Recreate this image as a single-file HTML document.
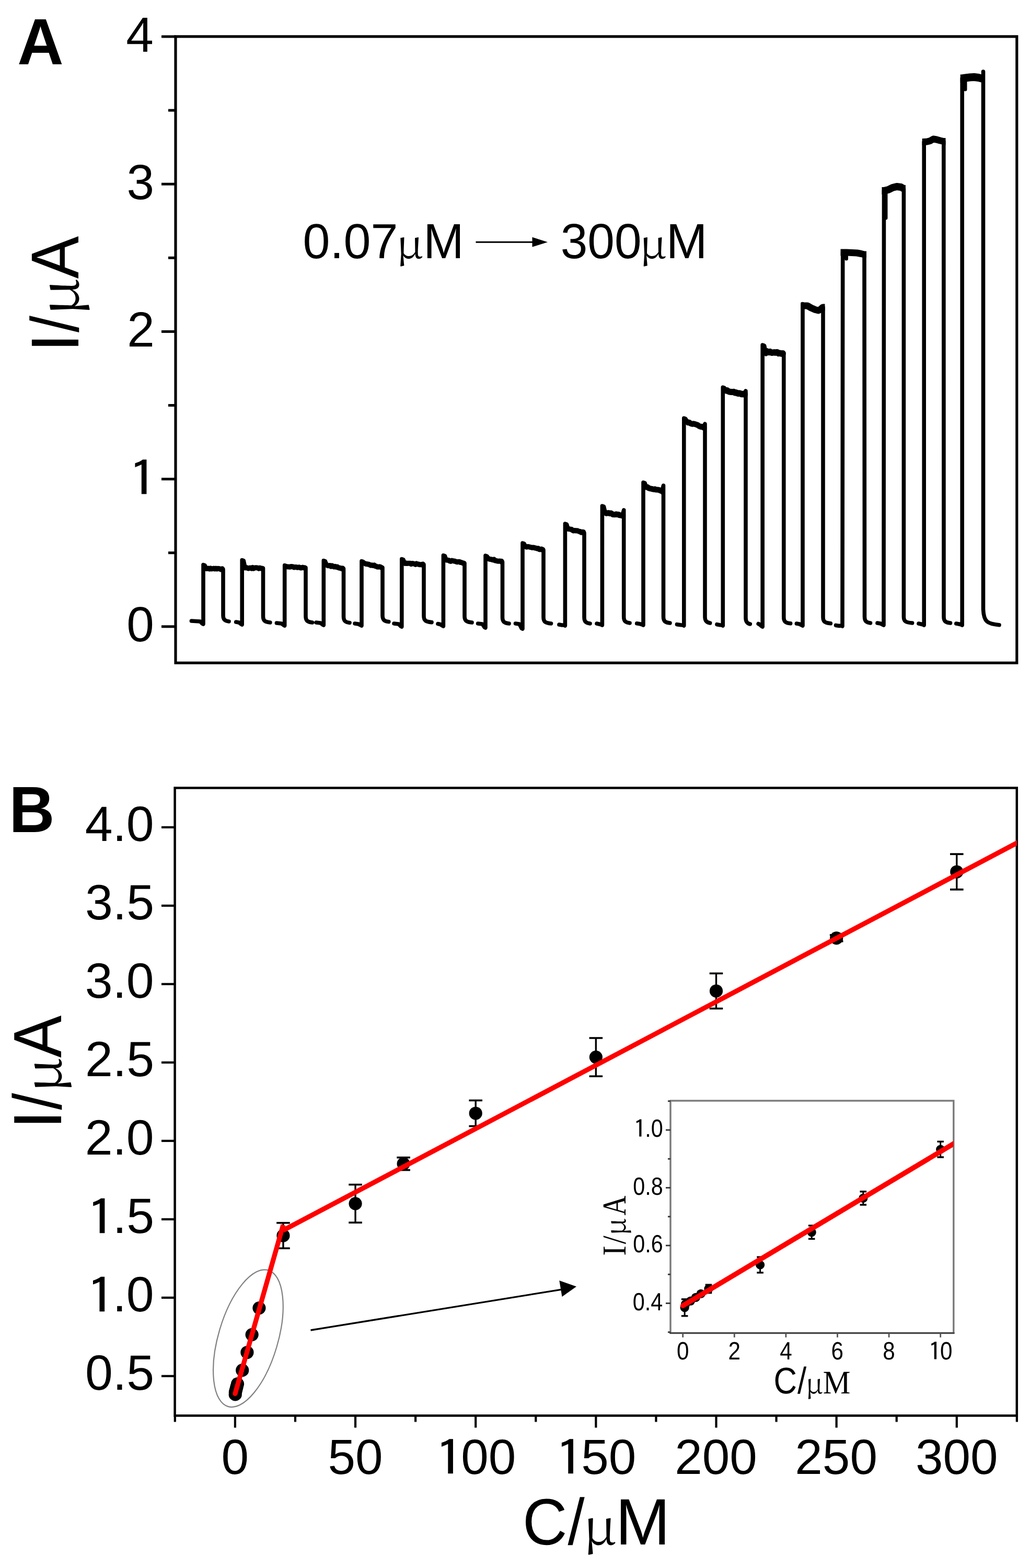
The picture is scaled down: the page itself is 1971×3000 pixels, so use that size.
<!DOCTYPE html>
<html><head><meta charset="utf-8"><title>Figure</title>
<style>html,body{margin:0;padding:0;background:#fff;}svg{display:block;}text{font-kerning:none;text-rendering:geometricPrecision;fill:#000;}</style>
</head><body>
<svg width="1971" height="3000" viewBox="0 0 1971 3000">
<rect x="0" y="0" width="1971" height="3000" fill="#fff"/>
<rect x="336.0" y="69.9" width="1609.80" height="1198.40" fill="none" stroke="#000" stroke-width="5.2"/>
<line x1="309.00" y1="1198.80" x2="336.00" y2="1198.80" stroke="#000" stroke-width="5.0" stroke-linecap="butt"/>
<text x="242.14" y="1227.30" font-family="'Liberation Sans', Arial, sans-serif" font-size="94.50">0</text>
<line x1="309.00" y1="916.60" x2="336.00" y2="916.60" stroke="#000" stroke-width="5.0" stroke-linecap="butt"/>
<text transform="translate(244.39 949.89) scale(1.2500 1)" font-family="'IPAGothic', 'Liberation Sans', sans-serif" font-size="94.24">1</text>
<line x1="309.00" y1="634.40" x2="336.00" y2="634.40" stroke="#000" stroke-width="5.0" stroke-linecap="butt"/>
<text x="243.20" y="662.90" font-family="'Liberation Sans', Arial, sans-serif" font-size="94.50">2</text>
<line x1="309.00" y1="352.20" x2="336.00" y2="352.20" stroke="#000" stroke-width="5.0" stroke-linecap="butt"/>
<text x="242.60" y="380.70" font-family="'Liberation Sans', Arial, sans-serif" font-size="94.50">3</text>
<line x1="309.00" y1="70.00" x2="336.00" y2="70.00" stroke="#000" stroke-width="5.0" stroke-linecap="butt"/>
<text x="241.21" y="98.50" font-family="'Liberation Sans', Arial, sans-serif" font-size="94.50">4</text>
<line x1="322.00" y1="1057.70" x2="336.00" y2="1057.70" stroke="#000" stroke-width="5.0" stroke-linecap="butt"/>
<line x1="322.00" y1="775.50" x2="336.00" y2="775.50" stroke="#000" stroke-width="5.0" stroke-linecap="butt"/>
<line x1="322.00" y1="493.30" x2="336.00" y2="493.30" stroke="#000" stroke-width="5.0" stroke-linecap="butt"/>
<line x1="322.00" y1="211.10" x2="336.00" y2="211.10" stroke="#000" stroke-width="5.0" stroke-linecap="butt"/>
<text transform="translate(33.35 122.60) scale(0.9790 1)" font-family="'Liberation Sans', Arial, sans-serif" font-size="125.00" font-weight="bold">A</text>
<g transform="translate(150.20 661.70) rotate(-90)"><text x="-12.14" y="0.00" font-family="'Liberation Sans', Arial, sans-serif" font-size="129.50">I</text><text transform="translate(25.70 0.00) scale(0.8894 1)" font-family="'Liberation Sans', Arial, sans-serif" font-size="129.50">/</text><text transform="translate(57.51 0.00) scale(1.0936 1)" font-family="'Noto Serif CJK SC', 'Liberation Serif', serif" font-size="104.40">μ</text><text transform="translate(128.46 0.00) scale(0.9433 1)" font-family="'Liberation Sans', Arial, sans-serif" font-size="129.50">A</text></g>
<text transform="translate(579.45 493.50) scale(0.9945 1)" font-family="'Liberation Sans', Arial, sans-serif" font-size="94.00">0.07</text>
<text transform="translate(758.06 493.60) scale(1.0930 1)" font-family="'Noto Serif CJK SC', 'Liberation Serif', serif" font-size="76.00">μ</text>
<text transform="translate(810.37 493.60) scale(0.9829 1)" font-family="'Liberation Sans', Arial, sans-serif" font-size="94.60">M</text>
<text transform="translate(1072.76 493.50) scale(0.9811 1)" font-family="'Liberation Sans', Arial, sans-serif" font-size="94.60">300</text>
<text transform="translate(1223.56 493.60) scale(1.0930 1)" font-family="'Noto Serif CJK SC', 'Liberation Serif', serif" font-size="76.00">μ</text>
<text transform="translate(1274.74 493.60) scale(1.0003 1)" font-family="'Liberation Sans', Arial, sans-serif" font-size="94.60">M</text>
<line x1="910.50" y1="463.20" x2="1022.00" y2="463.20" stroke="#000" stroke-width="3.0" stroke-linecap="butt"/>
<polygon points="1048,463.2 1018.5,453.8 1018.5,472.4" fill="#000"/>
<path d="M366.4,1188.0 L383.0,1189.0 L387.0,1193.0 L389.0,1194.0 L389.0,1080.5 L392.0,1081.5 L395.0,1088.0 L397.0,1087.7 L399.0,1087.4 L401.0,1088.5 L403.0,1087.4 L405.0,1088.4 L407.0,1088.1 L409.0,1087.6 L411.0,1088.5 L413.0,1087.6 L415.0,1088.5 L417.0,1087.8 L419.0,1087.9 L421.0,1088.7 L423.0,1089.5 L425.0,1088.2 L427.0,1089.0 L427.0,1177.0 C427.0,1186.0 431.0,1188.0 438.0,1189.0 M451.7,1190.0 L457.2,1191.0 L461.2,1194.0 L463.2,1195.0 L463.2,1071.5 L466.2,1072.5 L469.2,1086.4 L471.2,1085.9 L473.2,1086.8 L475.3,1087.5 L477.3,1086.8 L479.3,1086.5 L481.3,1087.7 L483.3,1085.9 L485.3,1087.6 L487.4,1086.5 L489.4,1086.3 L491.4,1086.3 L493.4,1086.7 L495.4,1087.8 L497.4,1086.6 L499.5,1087.4 L501.5,1087.6 L503.5,1087.4 L503.5,1179.0 C503.5,1188.0 507.5,1190.0 516.8,1191.0 M529.4,1192.0 L538.7,1193.0 L542.7,1196.0 L544.7,1197.0 L544.7,1081.5 L547.7,1082.5 L550.7,1084.5 L552.7,1084.4 L554.7,1084.8 L556.8,1084.0 L558.8,1084.1 L560.8,1084.5 L562.8,1085.5 L564.8,1085.1 L566.8,1085.0 L568.9,1085.7 L570.9,1085.5 L572.9,1085.3 L574.9,1086.4 L576.9,1086.4 L578.9,1085.6 L581.0,1086.3 L583.0,1086.3 L585.0,1086.4 L585.0,1179.0 C585.0,1188.0 589.0,1190.0 597.4,1191.0 M605.0,1191.0 L613.3,1192.0 L617.3,1195.0 L619.3,1196.0 L619.3,1072.5 L622.3,1073.5 L625.3,1081.0 L627.3,1082.2 L629.3,1082.3 L631.3,1081.9 L633.3,1083.7 L635.4,1082.4 L637.4,1083.5 L639.4,1084.6 L641.4,1083.8 L643.4,1084.9 L645.4,1084.5 L647.4,1086.1 L649.5,1086.8 L651.5,1086.8 L653.5,1087.9 L655.5,1087.2 L657.5,1088.0 L657.5,1179.5 C657.5,1188.5 661.5,1190.5 669.0,1191.5 M679.0,1193.0 L686.0,1194.0 L690.0,1196.0 L692.0,1197.0 L692.0,1073.5 L695.0,1074.5 L698.0,1078.0 L700.0,1078.9 L702.0,1079.1 L704.0,1079.6 L706.0,1079.8 L708.0,1081.0 L710.0,1081.7 L712.0,1081.2 L714.0,1082.1 L716.0,1081.4 L718.0,1083.1 L720.0,1083.5 L722.0,1084.6 L724.0,1084.8 L726.0,1084.2 L728.0,1084.8 L730.0,1085.9 L732.0,1086.0 L732.0,1177.6 C732.0,1186.6 736.0,1188.6 743.8,1189.6 M754.0,1193.0 L762.8,1194.0 L766.8,1198.0 L768.8,1199.0 L768.8,1069.5 L771.8,1070.5 L774.8,1078.0 L776.8,1077.2 L778.8,1078.1 L780.8,1077.7 L782.8,1077.7 L784.9,1077.7 L786.9,1079.2 L788.9,1078.0 L790.9,1078.4 L792.9,1078.8 L794.9,1079.9 L796.9,1078.4 L798.9,1079.2 L800.9,1079.5 L803.0,1080.3 L805.0,1080.3 L807.0,1080.5 L809.0,1079.4 L811.0,1080.0 L811.0,1178.6 C811.0,1187.6 815.0,1189.6 826.0,1190.6 M838.0,1193.5 L842.4,1194.5 L846.4,1197.0 L848.4,1198.0 L848.4,1062.5 L851.4,1063.5 L854.4,1071.6 L856.4,1071.8 L858.5,1072.0 L860.5,1073.4 L862.5,1073.9 L864.6,1072.6 L866.6,1073.0 L868.6,1073.5 L870.7,1073.8 L872.7,1074.6 L874.8,1075.2 L876.8,1074.9 L878.8,1074.7 L880.9,1075.9 L882.9,1076.1 L884.9,1076.9 L887.0,1078.0 L889.0,1077.4 L889.0,1179.0 C889.0,1188.0 893.0,1190.0 903.0,1191.0 M914.6,1193.0 L923.0,1194.0 L927.0,1200.0 L929.0,1201.0 L929.0,1063.0 L932.0,1064.0 L935.0,1069.0 L937.0,1069.8 L939.1,1070.0 L941.1,1070.6 L943.2,1071.2 L945.2,1070.4 L947.2,1072.6 L949.3,1072.8 L951.3,1073.4 L953.3,1073.7 L955.4,1073.4 L957.4,1073.9 L959.5,1073.7 L961.5,1075.0 L961.5,1181.0 C961.5,1190.0 965.5,1192.0 974.0,1193.0 M986.5,1193.0 L994.0,1194.0 L998.0,1202.0 L1000.0,1203.0 L1000.0,1039.0 L1003.0,1040.0 L1006.0,1046.0 L1008.0,1046.6 L1010.0,1045.8 L1012.0,1046.2 L1014.0,1046.8 L1016.0,1047.1 L1018.0,1047.8 L1020.0,1047.6 L1022.0,1047.8 L1024.0,1048.5 L1026.0,1048.7 L1028.0,1049.6 L1030.0,1049.3 L1032.0,1051.3 L1034.0,1051.2 L1036.0,1050.6 L1038.0,1051.2 L1040.0,1052.0 L1040.0,1181.0 C1040.0,1190.0 1044.0,1192.0 1054.5,1193.0 M1070.0,1195.0 L1075.4,1196.0 L1079.4,1196.0 L1081.4,1197.0 L1081.4,1002.0 L1084.4,1003.0 L1087.4,1012.0 L1089.4,1012.2 L1091.5,1012.7 L1093.5,1012.7 L1095.6,1014.7 L1097.6,1015.5 L1099.6,1014.9 L1101.7,1015.5 L1103.7,1015.2 L1105.8,1015.7 L1107.8,1016.7 L1109.8,1017.0 L1111.9,1018.7 L1113.9,1017.8 L1116.0,1018.0 L1118.0,1019.5 L1118.0,1181.0 C1118.0,1190.0 1122.0,1192.0 1129.0,1193.0 M1142.0,1193.0 L1146.4,1194.0 L1150.4,1195.0 L1152.4,1196.0 L1152.4,968.0 L1155.4,969.0 L1158.4,981.0 L1160.5,982.2 L1162.6,981.7 L1164.6,981.3 L1166.7,982.4 L1168.8,981.7 L1170.9,983.0 L1172.9,984.3 L1175.0,984.4 L1177.1,984.4 L1179.2,983.8 L1181.2,984.4 L1183.3,984.3 L1185.4,985.8 L1187.5,985.7 L1189.5,986.5 L1191.6,985.9 L1190.7,986.6 L1193.7,976.0 L1193.7,1180.0 C1193.7,1189.0 1197.7,1191.0 1205.0,1192.0 M1218.7,1192.8 L1225.0,1193.8 L1229.0,1195.0 L1231.0,1196.0 L1231.0,923.0 L1234.0,924.0 L1237.0,932.0 L1239.0,932.0 L1241.1,933.7 L1243.1,934.6 L1245.1,934.9 L1247.2,935.3 L1249.2,935.9 L1251.2,936.2 L1253.2,935.8 L1255.3,936.9 L1257.3,937.1 L1259.3,937.0 L1261.4,937.5 L1263.4,938.5 L1265.4,939.0 L1267.5,940.4 L1266.5,940.6 L1269.5,929.0 L1269.5,1180.0 C1269.5,1189.0 1273.5,1191.0 1281.9,1192.0 M1295.5,1194.7 L1302.8,1195.7 L1306.8,1196.0 L1308.8,1197.0 L1308.8,800.0 L1311.8,801.0 L1314.8,807.0 L1316.8,808.6 L1318.8,808.2 L1320.8,809.9 L1322.8,810.7 L1324.9,811.3 L1326.9,810.8 L1328.9,811.1 L1330.9,811.8 L1332.9,812.4 L1334.9,813.1 L1336.9,814.6 L1338.9,815.8 L1341.0,816.4 L1343.0,816.3 L1345.0,817.4 L1347.0,818.3 L1346.0,818.4 L1349.0,811.0 L1349.0,1180.0 C1349.0,1189.0 1353.0,1191.0 1358.6,1192.0 M1372.0,1194.7 L1377.3,1195.7 L1381.3,1196.0 L1383.3,1197.0 L1383.3,741.0 L1386.3,742.0 L1389.3,747.4 L1391.4,747.0 L1393.5,748.6 L1395.6,749.5 L1397.7,749.7 L1399.8,750.0 L1401.9,749.9 L1404.0,749.7 L1406.1,751.4 L1408.2,750.9 L1410.2,752.2 L1412.3,753.0 L1414.4,752.3 L1416.5,752.7 L1418.6,754.2 L1420.7,754.2 L1422.8,753.5 L1424.9,753.8 L1424.0,755.0 L1427.0,748.0 L1427.0,1182.0 C1427.0,1191.0 1431.0,1193.0 1435.3,1194.0 M1451.2,1193.5 L1453.2,1194.5 L1457.2,1198.0 L1459.2,1199.0 L1459.2,660.0 L1462.2,661.0 L1465.2,672.6 L1467.2,672.1 L1469.3,673.9 L1471.3,673.9 L1473.3,672.8 L1475.4,674.4 L1477.4,674.9 L1479.4,674.5 L1481.5,674.1 L1483.5,674.7 L1485.6,674.1 L1487.6,674.1 L1489.6,676.2 L1491.7,675.8 L1493.7,675.8 L1495.7,676.8 L1497.8,676.0 L1499.8,676.4 L1499.8,1180.8 C1499.8,1189.8 1503.8,1191.8 1512.6,1192.8 M1524.4,1193.0 L1530.0,1194.0 L1534.0,1196.0 L1536.0,1197.0 L1536.0,581.5 L1537.0,585.0 L1545.0,585.0 L1552.0,589.0 L1560.0,592.5 L1566.0,594.0 L1570.0,592.0 L1574.6,588.0 L1575.0,588.0 L1575.0,1180.8 C1575.0,1189.8 1579.0,1191.8 1589.3,1192.8 M1599.6,1196.4 L1606.0,1197.4 L1610.0,1197.0 L1612.0,1198.0 L1612.7,483.0 L1620.0,483.0 L1630.0,483.5 L1640.0,484.0 L1648.0,485.5 L1654.0,487.0 L1654.5,1180.0 C1654.5,1189.0 1658.5,1191.0 1665.5,1192.0 M1679.0,1192.0 L1685.0,1193.0 L1689.0,1195.0 L1691.0,1196.0 L1691.5,365.0 L1700.0,363.0 L1708.0,359.0 L1716.0,357.0 L1724.0,358.0 L1729.4,361.0 L1729.4,1180.0 C1729.4,1189.0 1733.4,1191.0 1745.6,1192.0 M1758.0,1193.0 L1762.2,1194.0 L1766.2,1195.0 L1768.2,1196.0 L1768.2,271.5 L1774.0,271.0 L1780.0,269.5 L1786.0,266.0 L1792.0,267.0 L1799.0,269.0 L1805.8,270.5 L1806.0,1180.0 C1806.0,1189.0 1810.0,1191.0 1818.5,1192.0 M1829.8,1193.0 L1835.2,1194.0 L1839.2,1195.0 L1841.2,1196.0 L1841.2,150.0 L1848.0,149.0 L1856.0,148.0 L1864.0,147.5 L1872.0,148.5 L1878.0,150.0 L1881.5,150.0 L1881.5,137.0 L1881.5,1165.8 C1882.5,1189.8 1889.5,1193.8 1912.0,1195.8" fill="none" stroke="#000" stroke-width="7.6" stroke-linejoin="round" stroke-linecap="round"/>
<path d="M395.0,1088.0 L397.0,1087.7 L399.0,1087.4 L401.0,1088.5 L403.0,1087.4 L405.0,1088.4 L407.0,1088.1 L409.0,1087.6 L411.0,1088.5 L413.0,1087.6 L415.0,1088.5 L417.0,1087.8 L419.0,1087.9 L421.0,1088.7 L423.0,1089.5 L425.0,1088.2 L425.0,1089.0 M469.2,1086.4 L471.2,1085.9 L473.2,1086.8 L475.3,1087.5 L477.3,1086.8 L479.3,1086.5 L481.3,1087.7 L483.3,1085.9 L485.3,1087.6 L487.4,1086.5 L489.4,1086.3 L491.4,1086.3 L493.4,1086.7 L495.4,1087.8 L497.4,1086.6 L499.5,1087.4 L501.5,1087.6 L501.5,1087.4 M550.7,1084.5 L552.7,1084.4 L554.7,1084.8 L556.8,1084.0 L558.8,1084.1 L560.8,1084.5 L562.8,1085.5 L564.8,1085.1 L566.8,1085.0 L568.9,1085.7 L570.9,1085.5 L572.9,1085.3 L574.9,1086.4 L576.9,1086.4 L578.9,1085.6 L581.0,1086.3 L583.0,1086.3 L583.0,1086.4 M625.3,1081.0 L627.3,1082.2 L629.3,1082.3 L631.3,1081.9 L633.3,1083.7 L635.4,1082.4 L637.4,1083.5 L639.4,1084.6 L641.4,1083.8 L643.4,1084.9 L645.4,1084.5 L647.4,1086.1 L649.5,1086.8 L651.5,1086.8 L653.5,1087.9 L655.5,1087.2 L655.5,1088.0 M698.0,1078.0 L700.0,1078.9 L702.0,1079.1 L704.0,1079.6 L706.0,1079.8 L708.0,1081.0 L710.0,1081.7 L712.0,1081.2 L714.0,1082.1 L716.0,1081.4 L718.0,1083.1 L720.0,1083.5 L722.0,1084.6 L724.0,1084.8 L726.0,1084.2 L728.0,1084.8 L730.0,1085.9 L730.0,1086.0 M774.8,1078.0 L776.8,1077.2 L778.8,1078.1 L780.8,1077.7 L782.8,1077.7 L784.9,1077.7 L786.9,1079.2 L788.9,1078.0 L790.9,1078.4 L792.9,1078.8 L794.9,1079.9 L796.9,1078.4 L798.9,1079.2 L800.9,1079.5 L803.0,1080.3 L805.0,1080.3 L807.0,1080.5 L809.0,1079.4 L809.0,1080.0 M854.4,1071.6 L856.4,1071.8 L858.5,1072.0 L860.5,1073.4 L862.5,1073.9 L864.6,1072.6 L866.6,1073.0 L868.6,1073.5 L870.7,1073.8 L872.7,1074.6 L874.8,1075.2 L876.8,1074.9 L878.8,1074.7 L880.9,1075.9 L882.9,1076.1 L884.9,1076.9 L887.0,1078.0 L887.0,1077.4 M935.0,1069.0 L937.0,1069.8 L939.1,1070.0 L941.1,1070.6 L943.2,1071.2 L945.2,1070.4 L947.2,1072.6 L949.3,1072.8 L951.3,1073.4 L953.3,1073.7 L955.4,1073.4 L957.4,1073.9 L959.5,1073.7 L959.5,1075.0 M1006.0,1046.0 L1008.0,1046.6 L1010.0,1045.8 L1012.0,1046.2 L1014.0,1046.8 L1016.0,1047.1 L1018.0,1047.8 L1020.0,1047.6 L1022.0,1047.8 L1024.0,1048.5 L1026.0,1048.7 L1028.0,1049.6 L1030.0,1049.3 L1032.0,1051.3 L1034.0,1051.2 L1036.0,1050.6 L1038.0,1051.2 L1038.0,1052.0 M1087.4,1012.0 L1089.4,1012.2 L1091.5,1012.7 L1093.5,1012.7 L1095.6,1014.7 L1097.6,1015.5 L1099.6,1014.9 L1101.7,1015.5 L1103.7,1015.2 L1105.8,1015.7 L1107.8,1016.7 L1109.8,1017.0 L1111.9,1018.7 L1113.9,1017.8 L1116.0,1018.0 L1116.0,1019.5" fill="none" stroke="#000" stroke-width="10" stroke-linejoin="round" stroke-linecap="round"/>
<path d="M1158.4,981.0 L1160.5,982.2 L1162.6,981.7 L1164.6,981.3 L1166.7,982.4 L1168.8,981.7 L1170.9,983.0 L1172.9,984.3 L1175.0,984.4 L1177.1,984.4 L1179.2,983.8 L1181.2,984.4 L1183.3,984.3 L1185.4,985.8 L1187.5,985.7 L1189.5,986.5 L1191.6,985.9 L1191.7,986.6 M1237.0,932.0 L1239.0,932.0 L1241.1,933.7 L1243.1,934.6 L1245.1,934.9 L1247.2,935.3 L1249.2,935.9 L1251.2,936.2 L1253.2,935.8 L1255.3,936.9 L1257.3,937.1 L1259.3,937.0 L1261.4,937.5 L1263.4,938.5 L1265.4,939.0 L1267.5,940.4 L1267.5,940.6 M1314.8,807.0 L1316.8,808.6 L1318.8,808.2 L1320.8,809.9 L1322.8,810.7 L1324.9,811.3 L1326.9,810.8 L1328.9,811.1 L1330.9,811.8 L1332.9,812.4 L1334.9,813.1 L1336.9,814.6 L1338.9,815.8 L1341.0,816.4 L1343.0,816.3 L1345.0,817.4 L1347.0,818.3 L1347.0,818.4" fill="none" stroke="#000" stroke-width="11" stroke-linejoin="round" stroke-linecap="round"/>
<path d="M1389.3,747.4 L1391.4,747.0 L1393.5,748.6 L1395.6,749.5 L1397.7,749.7 L1399.8,750.0 L1401.9,749.9 L1404.0,749.7 L1406.1,751.4 L1408.2,750.9 L1410.2,752.2 L1412.3,753.0 L1414.4,752.3 L1416.5,752.7 L1418.6,754.2 L1420.7,754.2 L1422.8,753.5 L1424.9,753.8 L1425.0,755.0 M1465.2,672.6 L1467.2,672.1 L1469.3,673.9 L1471.3,673.9 L1473.3,672.8 L1475.4,674.4 L1477.4,674.9 L1479.4,674.5 L1481.5,674.1 L1483.5,674.7 L1485.6,674.1 L1487.6,674.1 L1489.6,676.2 L1491.7,675.8 L1493.7,675.8 L1495.7,676.8 L1497.8,676.0 L1497.8,676.4" fill="none" stroke="#000" stroke-width="12" stroke-linejoin="round" stroke-linecap="round"/>
<path d="M1532.5,585.0 L1537.0,585.0 L1545.0,585.0 L1552.0,589.0 L1560.0,592.5 L1566.0,594.0 L1570.0,592.0 L1574.6,588.0 L1578.5,588.0 M1608.5,483.0 L1612.7,483.0 L1620.0,483.0 L1630.0,483.5 L1640.0,484.0 L1648.0,485.5 L1654.0,487.0 L1658.0,487.0 M1764.7,271.5 L1768.2,271.5 L1774.0,271.0 L1780.0,269.5 L1786.0,266.0 L1792.0,267.0 L1799.0,269.0 L1805.8,270.5 L1809.5,270.5" fill="none" stroke="#000" stroke-width="13" stroke-linejoin="round" stroke-linecap="butt"/>
<path d="M1687.5,365.0 L1691.5,365.0 L1700.0,363.0 L1708.0,359.0 L1716.0,357.0 L1724.0,358.0 L1729.4,361.0 L1732.9,361.0" fill="none" stroke="#000" stroke-width="14" stroke-linejoin="round" stroke-linecap="butt"/>
<path d="M1837.7,150.0 L1841.2,150.0 L1848.0,149.0 L1856.0,148.0 L1864.0,147.5 L1872.0,148.5 L1878.0,150.0 L1881.5,150.0 L1885.0,150.0" fill="none" stroke="#000" stroke-width="15" stroke-linejoin="round" stroke-linecap="butt"/>
<path d="M1619.5,487 L1619.5,495 M1695.0,364 L1695.0,417 M1847.0,151 L1847.0,171 M1463.0,662 L1466.0,678" fill="none" stroke="#000" stroke-width="7" stroke-linecap="round"/>
<rect x="334.6" y="1507.5" width="1611.20" height="1201.00" fill="none" stroke="#000" stroke-width="4.5"/>
<line x1="309.00" y1="2632.80" x2="334.60" y2="2632.80" stroke="#000" stroke-width="4.2" stroke-linecap="butt"/>
<text x="162.93" y="2658.80" font-family="'Liberation Sans', Arial, sans-serif" font-size="95.00">0.5</text>
<line x1="309.00" y1="2482.80" x2="334.60" y2="2482.80" stroke="#000" stroke-width="4.2" stroke-linecap="butt"/>
<text transform="translate(163.99 2513.61) scale(1.2500 1)" font-family="'IPAGothic', 'Liberation Sans', sans-serif" font-size="94.74">1</text><text x="215.48" y="2508.80" font-family="'Liberation Sans', Arial, sans-serif" font-size="95.00">.0</text>
<line x1="309.00" y1="2332.80" x2="334.60" y2="2332.80" stroke="#000" stroke-width="4.2" stroke-linecap="butt"/>
<text transform="translate(164.27 2363.61) scale(1.2500 1)" font-family="'IPAGothic', 'Liberation Sans', sans-serif" font-size="94.74">1</text><text x="215.76" y="2358.80" font-family="'Liberation Sans', Arial, sans-serif" font-size="95.00">.5</text>
<line x1="309.00" y1="2182.80" x2="334.60" y2="2182.80" stroke="#000" stroke-width="4.2" stroke-linecap="butt"/>
<text x="162.65" y="2208.80" font-family="'Liberation Sans', Arial, sans-serif" font-size="95.00">2.0</text>
<line x1="309.00" y1="2032.80" x2="334.60" y2="2032.80" stroke="#000" stroke-width="4.2" stroke-linecap="butt"/>
<text x="162.93" y="2058.80" font-family="'Liberation Sans', Arial, sans-serif" font-size="95.00">2.5</text>
<line x1="309.00" y1="1882.80" x2="334.60" y2="1882.80" stroke="#000" stroke-width="4.2" stroke-linecap="butt"/>
<text x="162.65" y="1908.80" font-family="'Liberation Sans', Arial, sans-serif" font-size="95.00">3.0</text>
<line x1="309.00" y1="1732.80" x2="334.60" y2="1732.80" stroke="#000" stroke-width="4.2" stroke-linecap="butt"/>
<text x="162.93" y="1758.80" font-family="'Liberation Sans', Arial, sans-serif" font-size="95.00">3.5</text>
<line x1="309.00" y1="1582.80" x2="334.60" y2="1582.80" stroke="#000" stroke-width="4.2" stroke-linecap="butt"/>
<text x="162.65" y="1608.80" font-family="'Liberation Sans', Arial, sans-serif" font-size="95.00">4.0</text>
<line x1="334.82" y1="2708.50" x2="334.82" y2="2720.50" stroke="#000" stroke-width="4.2" stroke-linecap="butt"/>
<line x1="449.90" y1="2708.50" x2="449.90" y2="2731.50" stroke="#000" stroke-width="4.2" stroke-linecap="butt"/>
<text x="423.62" y="2819.60" font-family="'Liberation Sans', Arial, sans-serif" font-size="94.50">0</text>
<line x1="564.97" y1="2708.50" x2="564.97" y2="2720.50" stroke="#000" stroke-width="4.2" stroke-linecap="butt"/>
<line x1="680.05" y1="2708.50" x2="680.05" y2="2731.50" stroke="#000" stroke-width="4.2" stroke-linecap="butt"/>
<text x="627.45" y="2819.60" font-family="'Liberation Sans', Arial, sans-serif" font-size="94.50">50</text>
<line x1="795.12" y1="2708.50" x2="795.12" y2="2720.50" stroke="#000" stroke-width="4.2" stroke-linecap="butt"/>
<line x1="910.20" y1="2708.50" x2="910.20" y2="2731.50" stroke="#000" stroke-width="4.2" stroke-linecap="butt"/>
<text transform="translate(830.95 2824.39) scale(1.2500 1)" font-family="'IPAGothic', 'Liberation Sans', sans-serif" font-size="94.24">1</text><text x="882.17" y="2819.60" font-family="'Liberation Sans', Arial, sans-serif" font-size="94.50">00</text>
<line x1="1025.28" y1="2708.50" x2="1025.28" y2="2720.50" stroke="#000" stroke-width="4.2" stroke-linecap="butt"/>
<line x1="1140.35" y1="2708.50" x2="1140.35" y2="2731.50" stroke="#000" stroke-width="4.2" stroke-linecap="butt"/>
<text transform="translate(1061.10 2824.39) scale(1.2500 1)" font-family="'IPAGothic', 'Liberation Sans', sans-serif" font-size="94.24">1</text><text x="1112.32" y="2819.60" font-family="'Liberation Sans', Arial, sans-serif" font-size="94.50">50</text>
<line x1="1255.42" y1="2708.50" x2="1255.42" y2="2720.50" stroke="#000" stroke-width="4.2" stroke-linecap="butt"/>
<line x1="1370.50" y1="2708.50" x2="1370.50" y2="2731.50" stroke="#000" stroke-width="4.2" stroke-linecap="butt"/>
<text x="1291.13" y="2819.60" font-family="'Liberation Sans', Arial, sans-serif" font-size="94.50">200</text>
<line x1="1485.57" y1="2708.50" x2="1485.57" y2="2720.50" stroke="#000" stroke-width="4.2" stroke-linecap="butt"/>
<line x1="1600.65" y1="2708.50" x2="1600.65" y2="2731.50" stroke="#000" stroke-width="4.2" stroke-linecap="butt"/>
<text x="1521.28" y="2819.60" font-family="'Liberation Sans', Arial, sans-serif" font-size="94.50">250</text>
<line x1="1715.72" y1="2708.50" x2="1715.72" y2="2720.50" stroke="#000" stroke-width="4.2" stroke-linecap="butt"/>
<line x1="1830.80" y1="2708.50" x2="1830.80" y2="2731.50" stroke="#000" stroke-width="4.2" stroke-linecap="butt"/>
<text x="1752.01" y="2819.60" font-family="'Liberation Sans', Arial, sans-serif" font-size="94.50">300</text>
<line x1="1945.88" y1="2708.50" x2="1945.88" y2="2720.50" stroke="#000" stroke-width="4.2" stroke-linecap="butt"/>
<text transform="translate(17.55 1592.30) scale(0.9628 1)" font-family="'Liberation Sans', Arial, sans-serif" font-size="125.00" font-weight="bold">B</text>
<g transform="translate(116.80 2148.80) rotate(-90)"><text x="-11.38" y="0.00" font-family="'Liberation Sans', Arial, sans-serif" font-size="130.50">I</text><text transform="translate(25.30 0.00) scale(0.8909 1)" font-family="'Liberation Sans', Arial, sans-serif" font-size="130.50">/</text><text transform="translate(58.36 0.00) scale(1.0956 1)" font-family="'Noto Serif CJK SC', 'Liberation Serif', serif" font-size="97.20">μ</text><text transform="translate(125.06 0.00) scale(0.9314 1)" font-family="'Liberation Sans', Arial, sans-serif" font-size="130.50">A</text></g>
<text transform="translate(999.99 2954.80) scale(0.9431 1)" font-family="'Liberation Sans', Arial, sans-serif" font-size="125.40">C</text>
<text transform="translate(1086.60 2954.80) scale(0.9242 1)" font-family="'Liberation Sans', Arial, sans-serif" font-size="125.40">/</text>
<text transform="translate(1115.71 2954.80) scale(1.0644 1)" font-family="'Noto Serif CJK SC', 'Liberation Serif', serif" font-size="95.80">μ</text>
<text transform="translate(1177.70 2954.80) scale(1.0014 1)" font-family="'Liberation Sans', Arial, sans-serif" font-size="125.40">M</text>
<defs><clipPath id="cb"><rect x="334.6" y="1507.5" width="1611.20" height="1201.00"/></clipPath><clipPath id="ci"><rect x="1283" y="2106" width="541.6" height="444.5"/></clipPath></defs>
<ellipse cx="474.9" cy="2560.7" rx="135.9" ry="57.0" transform="rotate(-73.6 474.9 2560.7)" fill="none" stroke="#808080" stroke-width="2.2"/>
<g clip-path="url(#cb)"><circle cx="450.22" cy="2667.90" r="12.6" fill="#000"/><circle cx="450.36" cy="2663.70" r="12.6" fill="#000"/><circle cx="451.28" cy="2660.40" r="12.6" fill="#000"/><circle cx="452.20" cy="2656.80" r="12.6" fill="#000"/><circle cx="453.12" cy="2652.90" r="12.6" fill="#000"/><circle cx="454.50" cy="2647.80" r="12.6" fill="#000"/><circle cx="463.71" cy="2621.70" r="12.6" fill="#000"/><circle cx="472.91" cy="2587.50" r="12.6" fill="#000"/><circle cx="482.12" cy="2553.60" r="12.6" fill="#000"/><circle cx="495.93" cy="2502.60" r="12.6" fill="#000"/><line x1="541.96" y1="2339.70" x2="541.96" y2="2388.30" stroke="#000" stroke-width="3.4" stroke-linecap="butt"/><line x1="529.16" y1="2339.70" x2="554.76" y2="2339.70" stroke="#000" stroke-width="3.6" stroke-linecap="butt"/><line x1="529.16" y1="2388.30" x2="554.76" y2="2388.30" stroke="#000" stroke-width="3.6" stroke-linecap="butt"/><circle cx="541.96" cy="2364.00" r="12.6" fill="#000"/><line x1="680.05" y1="2266.50" x2="680.05" y2="2339.10" stroke="#000" stroke-width="3.4" stroke-linecap="butt"/><line x1="667.25" y1="2266.50" x2="692.85" y2="2266.50" stroke="#000" stroke-width="3.6" stroke-linecap="butt"/><line x1="667.25" y1="2339.10" x2="692.85" y2="2339.10" stroke="#000" stroke-width="3.6" stroke-linecap="butt"/><circle cx="680.05" cy="2302.80" r="12.6" fill="#000"/><line x1="772.11" y1="2214.60" x2="772.11" y2="2238.60" stroke="#000" stroke-width="3.4" stroke-linecap="butt"/><line x1="759.31" y1="2214.60" x2="784.91" y2="2214.60" stroke="#000" stroke-width="3.6" stroke-linecap="butt"/><line x1="759.31" y1="2238.60" x2="784.91" y2="2238.60" stroke="#000" stroke-width="3.6" stroke-linecap="butt"/><circle cx="772.11" cy="2226.60" r="12.6" fill="#000"/><line x1="910.20" y1="2105.40" x2="910.20" y2="2154.60" stroke="#000" stroke-width="3.4" stroke-linecap="butt"/><line x1="897.40" y1="2105.40" x2="923.00" y2="2105.40" stroke="#000" stroke-width="3.6" stroke-linecap="butt"/><line x1="897.40" y1="2154.60" x2="923.00" y2="2154.60" stroke="#000" stroke-width="3.6" stroke-linecap="butt"/><circle cx="910.20" cy="2130.00" r="12.6" fill="#000"/><line x1="1140.35" y1="1986.00" x2="1140.35" y2="2059.20" stroke="#000" stroke-width="3.4" stroke-linecap="butt"/><line x1="1127.55" y1="1986.00" x2="1153.15" y2="1986.00" stroke="#000" stroke-width="3.6" stroke-linecap="butt"/><line x1="1127.55" y1="2059.20" x2="1153.15" y2="2059.20" stroke="#000" stroke-width="3.6" stroke-linecap="butt"/><circle cx="1140.35" cy="2022.60" r="12.6" fill="#000"/><line x1="1370.50" y1="1862.40" x2="1370.50" y2="1929.60" stroke="#000" stroke-width="3.4" stroke-linecap="butt"/><line x1="1357.70" y1="1862.40" x2="1383.30" y2="1862.40" stroke="#000" stroke-width="3.6" stroke-linecap="butt"/><line x1="1357.70" y1="1929.60" x2="1383.30" y2="1929.60" stroke="#000" stroke-width="3.6" stroke-linecap="butt"/><circle cx="1370.50" cy="1896.00" r="12.6" fill="#000"/><line x1="1600.65" y1="1788.90" x2="1600.65" y2="1800.90" stroke="#000" stroke-width="3.4" stroke-linecap="butt"/><line x1="1587.85" y1="1788.90" x2="1613.45" y2="1788.90" stroke="#000" stroke-width="3.6" stroke-linecap="butt"/><line x1="1587.85" y1="1800.90" x2="1613.45" y2="1800.90" stroke="#000" stroke-width="3.6" stroke-linecap="butt"/><circle cx="1600.65" cy="1794.90" r="12.6" fill="#000"/><line x1="1830.80" y1="1634.10" x2="1830.80" y2="1701.90" stroke="#000" stroke-width="3.4" stroke-linecap="butt"/><line x1="1818.00" y1="1634.10" x2="1843.60" y2="1634.10" stroke="#000" stroke-width="3.6" stroke-linecap="butt"/><line x1="1818.00" y1="1701.90" x2="1843.60" y2="1701.90" stroke="#000" stroke-width="3.6" stroke-linecap="butt"/><circle cx="1830.80" cy="1668.00" r="12.6" fill="#000"/><line x1="449.90" y1="2666.40" x2="541.96" y2="2343.60" stroke="#ff0000" stroke-width="9.2" stroke-linecap="butt"/><circle cx="449.90" cy="2666.40" r="4.6" fill="#ff0000"/><line x1="541.96" y1="2353.92" x2="1960.00" y2="1605.43" stroke="#ff0000" stroke-width="9.2" stroke-linecap="butt"/></g>
<line x1="594.50" y1="2545.00" x2="1078.00" y2="2466.60" stroke="#000" stroke-width="3.3" stroke-linecap="butt"/>
<polygon points="1103,2461.5 1070.3,2450 1075.5,2481" fill="#000"/>
<rect x="1283.0" y="2106.0" width="541.80" height="444.50" fill="none" stroke="#7a7a7a" stroke-width="3.4"/>
<line x1="1281.30" y1="2550.50" x2="1826.50" y2="2550.50" stroke="#444" stroke-width="3.0" stroke-linecap="butt"/>
<line x1="1278.00" y1="2548.75" x2="1283.00" y2="2548.75" stroke="#333" stroke-width="2.8" stroke-linecap="butt"/>
<line x1="1274.00" y1="2493.50" x2="1283.00" y2="2493.50" stroke="#333" stroke-width="2.8" stroke-linecap="butt"/>
<text transform="translate(1210.76 2506.50) scale(0.8700 1)" font-family="'Liberation Sans', Arial, sans-serif" font-size="47.50">0.4</text>
<line x1="1278.00" y1="2438.25" x2="1283.00" y2="2438.25" stroke="#333" stroke-width="2.8" stroke-linecap="butt"/>
<line x1="1274.00" y1="2383.00" x2="1283.00" y2="2383.00" stroke="#333" stroke-width="2.8" stroke-linecap="butt"/>
<text transform="translate(1211.37 2396.00) scale(0.8700 1)" font-family="'Liberation Sans', Arial, sans-serif" font-size="47.50">0.6</text>
<line x1="1278.00" y1="2327.75" x2="1283.00" y2="2327.75" stroke="#333" stroke-width="2.8" stroke-linecap="butt"/>
<line x1="1274.00" y1="2272.50" x2="1283.00" y2="2272.50" stroke="#333" stroke-width="2.8" stroke-linecap="butt"/>
<text transform="translate(1211.35 2285.50) scale(0.8700 1)" font-family="'Liberation Sans', Arial, sans-serif" font-size="47.50">0.8</text>
<line x1="1278.00" y1="2217.25" x2="1283.00" y2="2217.25" stroke="#333" stroke-width="2.8" stroke-linecap="butt"/>
<line x1="1274.00" y1="2162.00" x2="1283.00" y2="2162.00" stroke="#333" stroke-width="2.8" stroke-linecap="butt"/>
<text transform="translate(1211.75 2177.41) scale(1.0875 1)" font-family="'IPAGothic', 'Liberation Sans', sans-serif" font-size="47.37">1</text><text transform="translate(1234.15 2175.00) scale(0.8700 1)" font-family="'Liberation Sans', Arial, sans-serif" font-size="47.50">.0</text>
<line x1="1278.00" y1="2106.75" x2="1283.00" y2="2106.75" stroke="#333" stroke-width="2.8" stroke-linecap="butt"/>
<line x1="1306.70" y1="2550.50" x2="1306.70" y2="2558.80" stroke="#555" stroke-width="2.8" stroke-linecap="butt"/>
<text transform="translate(1294.95 2600.50) scale(0.8800 1)" font-family="'Liberation Sans', Arial, sans-serif" font-size="48.00">0</text>
<line x1="1405.30" y1="2550.50" x2="1405.30" y2="2558.80" stroke="#555" stroke-width="2.8" stroke-linecap="butt"/>
<text transform="translate(1393.55 2600.50) scale(0.8800 1)" font-family="'Liberation Sans', Arial, sans-serif" font-size="48.00">2</text>
<line x1="1503.90" y1="2550.50" x2="1503.90" y2="2558.80" stroke="#555" stroke-width="2.8" stroke-linecap="butt"/>
<text transform="translate(1492.29 2600.50) scale(0.8800 1)" font-family="'Liberation Sans', Arial, sans-serif" font-size="48.00">4</text>
<line x1="1602.50" y1="2550.50" x2="1602.50" y2="2558.80" stroke="#555" stroke-width="2.8" stroke-linecap="butt"/>
<text transform="translate(1590.61 2600.50) scale(0.8800 1)" font-family="'Liberation Sans', Arial, sans-serif" font-size="48.00">6</text>
<line x1="1701.10" y1="2550.50" x2="1701.10" y2="2558.80" stroke="#555" stroke-width="2.8" stroke-linecap="butt"/>
<text transform="translate(1689.35 2600.50) scale(0.8800 1)" font-family="'Liberation Sans', Arial, sans-serif" font-size="48.00">8</text>
<line x1="1799.70" y1="2550.50" x2="1799.70" y2="2558.80" stroke="#555" stroke-width="2.8" stroke-linecap="butt"/>
<text transform="translate(1776.02 2602.93) scale(1.1000 1)" font-family="'IPAGothic', 'Liberation Sans', sans-serif" font-size="47.87">1</text><text transform="translate(1798.92 2600.50) scale(0.8800 1)" font-family="'Liberation Sans', Arial, sans-serif" font-size="48.00">0</text>
<g transform="translate(1197.10 2400.50) rotate(-90)"><text transform="translate(-2.08 0.00) scale(0.9015 1)" font-family="'Liberation Serif', 'Times New Roman', serif" font-size="64.00">I</text><text transform="translate(20.20 0.00) scale(0.8942 1)" font-family="'Liberation Serif', 'Times New Roman', serif" font-size="64.00">/</text><text transform="translate(36.81 0.00) scale(1.0086 1)" font-family="'Noto Serif CJK SC', 'Liberation Serif', serif" font-size="52.50">μ</text><text transform="translate(75.09 0.00) scale(0.8199 1)" font-family="'Liberation Serif', 'Times New Roman', serif" font-size="64.00">A</text></g>
<text transform="translate(1480.57 2666.00) scale(0.8674 1)" font-family="'Liberation Sans', Arial, sans-serif" font-size="71.00">C</text>
<text transform="translate(1525.90 2666.00) scale(0.8719 1)" font-family="'Liberation Sans', Arial, sans-serif" font-size="71.00">/</text>
<text transform="translate(1541.83 2666.10) scale(0.9954 1)" font-family="'Noto Serif CJK SC', 'Liberation Serif', serif" font-size="53.00">μ</text>
<text transform="translate(1574.69 2666.10) scale(0.9397 1)" font-family="'Liberation Serif', 'Times New Roman', serif" font-size="63.00">M</text>
<g clip-path="url(#ci)"><line x1="1310.15" y1="2485.76" x2="1310.15" y2="2517.81" stroke="#000" stroke-width="3" stroke-linecap="butt"/><line x1="1303.85" y1="2485.76" x2="1316.45" y2="2485.76" stroke="#000" stroke-width="3.4" stroke-linecap="butt"/><line x1="1303.85" y1="2517.81" x2="1316.45" y2="2517.81" stroke="#000" stroke-width="3.4" stroke-linecap="butt"/><circle cx="1310.15" cy="2501.79" r="8.6" fill="#000"/><circle cx="1311.63" cy="2495.16" r="8.6" fill="#000"/><circle cx="1321.49" cy="2489.08" r="8.6" fill="#000"/><circle cx="1331.35" cy="2482.45" r="8.6" fill="#000"/><circle cx="1341.21" cy="2475.27" r="8.6" fill="#000"/><line x1="1356.00" y1="2458.14" x2="1356.00" y2="2473.61" stroke="#000" stroke-width="3" stroke-linecap="butt"/><line x1="1349.70" y1="2458.14" x2="1362.30" y2="2458.14" stroke="#000" stroke-width="3.4" stroke-linecap="butt"/><line x1="1349.70" y1="2473.61" x2="1362.30" y2="2473.61" stroke="#000" stroke-width="3.4" stroke-linecap="butt"/><circle cx="1356.00" cy="2465.88" r="8.6" fill="#000"/><line x1="1454.60" y1="2405.10" x2="1454.60" y2="2434.93" stroke="#000" stroke-width="3" stroke-linecap="butt"/><line x1="1448.30" y1="2405.10" x2="1460.90" y2="2405.10" stroke="#000" stroke-width="3.4" stroke-linecap="butt"/><line x1="1448.30" y1="2434.93" x2="1460.90" y2="2434.93" stroke="#000" stroke-width="3.4" stroke-linecap="butt"/><circle cx="1454.60" cy="2420.02" r="8.6" fill="#000"/><line x1="1553.20" y1="2344.88" x2="1553.20" y2="2370.29" stroke="#000" stroke-width="3" stroke-linecap="butt"/><line x1="1546.90" y1="2344.88" x2="1559.50" y2="2344.88" stroke="#000" stroke-width="3.4" stroke-linecap="butt"/><line x1="1546.90" y1="2370.29" x2="1559.50" y2="2370.29" stroke="#000" stroke-width="3.4" stroke-linecap="butt"/><circle cx="1553.20" cy="2357.59" r="8.6" fill="#000"/><line x1="1651.80" y1="2279.68" x2="1651.80" y2="2305.10" stroke="#000" stroke-width="3" stroke-linecap="butt"/><line x1="1645.50" y1="2279.68" x2="1658.10" y2="2279.68" stroke="#000" stroke-width="3.4" stroke-linecap="butt"/><line x1="1645.50" y1="2305.10" x2="1658.10" y2="2305.10" stroke="#000" stroke-width="3.4" stroke-linecap="butt"/><circle cx="1651.80" cy="2292.39" r="8.6" fill="#000"/><line x1="1799.70" y1="2184.10" x2="1799.70" y2="2213.93" stroke="#000" stroke-width="3" stroke-linecap="butt"/><line x1="1793.40" y1="2184.10" x2="1806.00" y2="2184.10" stroke="#000" stroke-width="3.4" stroke-linecap="butt"/><line x1="1793.40" y1="2213.93" x2="1806.00" y2="2213.93" stroke="#000" stroke-width="3.4" stroke-linecap="butt"/><circle cx="1799.70" cy="2199.02" r="8.6" fill="#000"/><line x1="1306.70" y1="2498.09" x2="1830.00" y2="2185.16" stroke="#ff0000" stroke-width="9.6" stroke-linecap="round"/></g>
</svg>
</body></html>
